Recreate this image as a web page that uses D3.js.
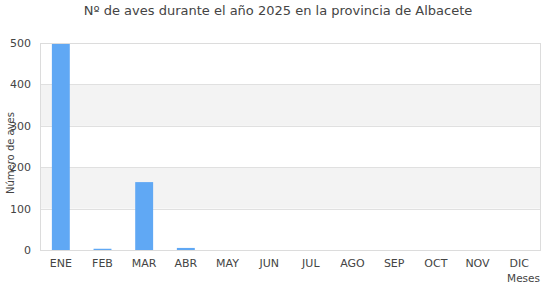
<!DOCTYPE html>
<html>
<head>
<meta charset="utf-8">
<script src="https://cdn.jsdelivr.net/npm/d3@7"></script>
<style>
  body { margin: 0; background: #fff; }
  svg text { font-family: "DejaVu Sans", sans-serif; fill: #444; }
</style>
</head>
<body>
<div id="chart"></div>
<script>
  const MESES = ['ENE', 'FEB', 'MAR', 'ABR', 'MAY', 'JUN', 'JUL', 'AGO', 'SEP', 'OCT', 'NOV', 'DIC'];
  const AVES = [498, 3, 164, 5, 0, 0, 0, 0, 0, 0, 0, 0];
  const Y_TICKS = [0, 100, 200, 300, 400, 500];

  const W = 560, H = 300;
  const MARGIN = { TOP: 43, RIGHT: 20, BOTTOM: 50, LEFT: 40 };
  const width = W - MARGIN.LEFT - MARGIN.RIGHT;
  const height = H - MARGIN.TOP - MARGIN.BOTTOM;

  const x = d3.scaleBand().domain(MESES).range([0, width]).padding(0);
  const y = d3.scaleLinear().domain([0, 500]).range([height, 0]);

  const svg = d3.select('#chart').append('svg')
    .attr('width', W)
    .attr('height', H);

  svg.append('text')
    .attr('x', 278)
    .attr('y', 15)
    .attr('text-anchor', 'middle')
    .style('font-size', '13px')
    .text('Nº de aves durante el año 2025 en la provincia de Albacete');

  const g = svg.append('g')
    .attr('transform', 'translate(' + MARGIN.LEFT + ',' + MARGIN.TOP + ')');

  // alternating bands
  for (let i = 0; i < Y_TICKS.length - 1; i++) {
    if (i % 2 === 1) {
      g.append('rect')
        .attr('x', 0)
        .attr('width', width)
        .attr('y', y(Y_TICKS[i + 1]))
        .attr('height', y(Y_TICKS[i]) - y(Y_TICKS[i + 1]))
        .style('fill', '#f3f3f3');
    }
  }

  // grid lines
  g.selectAll('.grid')
    .data(Y_TICKS.slice(1, -1))
    .enter().append('line')
    .attr('x1', 0).attr('x2', width)
    .attr('y1', d => Math.round(y(d)) + 0.5)
    .attr('y2', d => Math.round(y(d)) + 0.5)
    .style('stroke', '#e0e0e0');

  const yAxis = g.append('g')
    .call(d3.axisLeft(y).tickValues(Y_TICKS).tickSize(0).tickPadding(9));
  yAxis.select('.domain').remove();
  yAxis.selectAll('text').style('font-size', '11px').style('fill', '#444');

  const xAxis = g.append('g')
    .attr('transform', 'translate(0,' + height + ')')
    .call(d3.axisBottom(x).tickSize(0).tickPadding(9));
  xAxis.select('.domain').remove();
  xAxis.selectAll('text').style('font-size', '11px').style('fill', '#444');

  const barW = x.bandwidth() * 0.43;
  g.selectAll('.bar')
    .data(AVES)
    .enter().append('rect')
    .attr('x', (d, i) => x(MESES[i]) + (x.bandwidth() - barW) / 2)
    .attr('width', barW)
    .attr('y', d => y(d))
    .attr('height', d => height - y(d))
    .style('fill', '#60a8f4');

  // frame
  g.append('rect')
    .attr('x', 0.5).attr('y', 0.5)
    .attr('width', width).attr('height', height)
    .style('fill', 'none')
    .style('stroke', '#dcdcdc');

  svg.append('text')
    .attr('x', MARGIN.LEFT + width)
    .attr('y', 282)
    .attr('text-anchor', 'end')
    .style('font-size', '10.5px')
    .text('Meses');

  svg.append('text')
    .attr('transform', 'translate(14,' + (MARGIN.TOP + 110) + ') rotate(-90)')
    .attr('text-anchor', 'middle')
    .style('font-size', '10px')
    .text('Número de aves');
</script>
</body>
</html>
